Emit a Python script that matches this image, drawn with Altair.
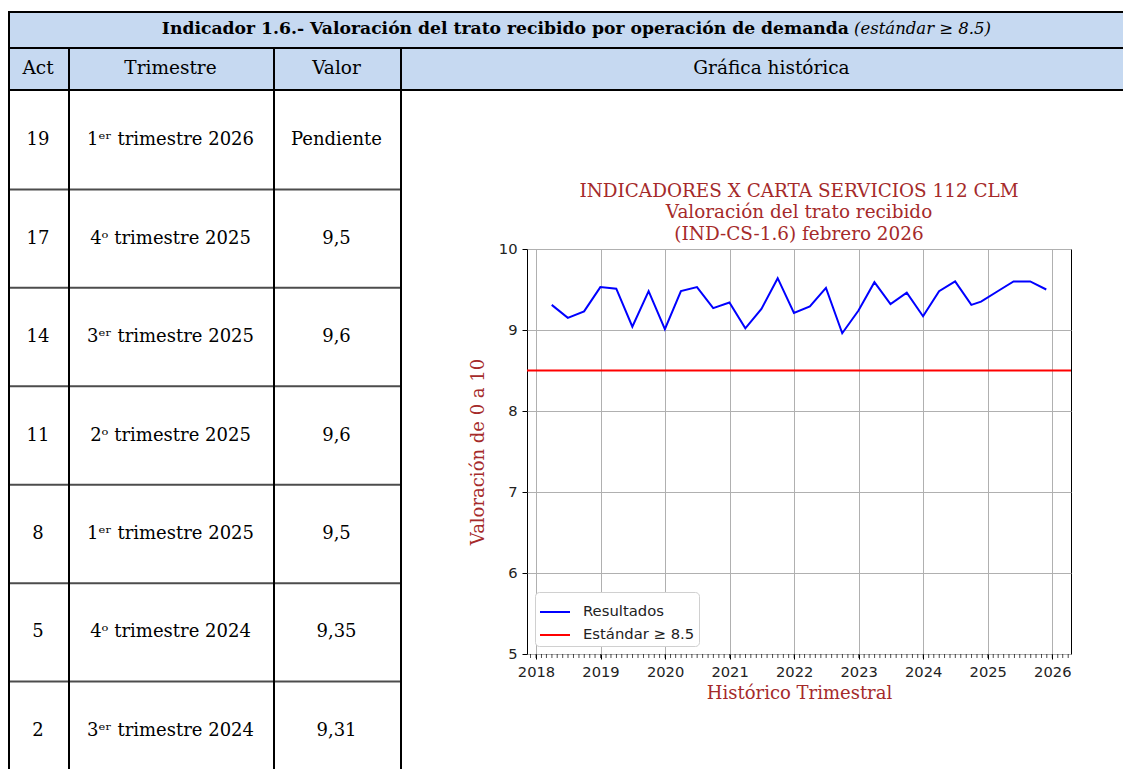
import altair as alt
import pandas as pd

# ---------------- table data ----------------
titulo = "Indicador 1.6.- Valoración del trato recibido por operación de demanda"
titulo_std = "(estándar ≥ 8.5)"
headers = ["Act", "Trimestre", "Valor", "Gráfica histórica"]
act = ["19", "17", "14", "11", "8", "5", "2"]
trimestre = ["1ᵉʳ trimestre 2026", "4ᵒ trimestre 2025", "3ᵉʳ trimestre 2025",
             "2ᵒ trimestre 2025", "1ᵉʳ trimestre 2025", "4ᵒ trimestre 2024",
             "3ᵉʳ trimestre 2024"]
valor = ["Pendiente", "9,5", "9,6", "9,6", "9,5", "9,35", "9,31"]

# ---------------- chart data ----------------
fechas = ["2018-03-31", "2018-06-30", "2018-09-30", "2018-12-31",
          "2019-03-31", "2019-06-30", "2019-09-30", "2019-12-31",
          "2020-03-31", "2020-06-30", "2020-09-30", "2020-12-31",
          "2021-03-31", "2021-06-30", "2021-09-30", "2021-12-31",
          "2022-03-31", "2022-06-30", "2022-09-30", "2022-12-31",
          "2023-03-31", "2023-06-30", "2023-09-30", "2023-12-31",
          "2024-03-31", "2024-06-30", "2024-09-30", "2024-11-24",
          "2025-03-14", "2025-05-27", "2025-08-29", "2025-11-28"]
resultados = [9.31, 9.15, 9.23, 9.53, 9.51, 9.04, 9.48, 9.01,
              9.48, 9.53, 9.27, 9.34, 9.02, 9.26, 9.64, 9.21,
              9.29, 9.52, 8.96, 9.24, 9.59, 9.32, 9.46, 9.17,
              9.48, 9.60, 9.31, 9.35, 9.50, 9.60, 9.60, 9.50]
estandar = 8.5
serie_res = "Resultados"
serie_std = "Estándar ≥ 8.5"
year_ticks = [2018, 2019, 2020, 2021, 2022, 2023, 2024, 2025, 2026]
y_ticks = [5, 6, 7, 8, 9, 10]
chart_title = ["INDICADORES X CARTA SERVICIOS 112 CLM",
               "Valoración del trato recibido",
               "(IND-CS-1.6) febrero 2026"]
x_title = "Histórico Trimestral"
y_title = "Valoración de 0 a 10"

# ---------------- styles / layout ----------------
SERIF = "DejaVu Serif"
SANS = "DejaVu Sans"
HDR = "#c6d9f1"
DRED = "#a52a2a"
LW = 2                      # table line thickness
TOTAL_W = 1115
col_w = [60, 205, 127]
graf_w = TOTAL_W - sum(col_w)
TITLE_H = 36
HEAD_H = 44
ROW_H = 98.4
N = len(act)
BODY_H = round(ROW_H * N)


def no_stroke(fill):
    return alt.ViewBackground(fill=fill, stroke="transparent", strokeWidth=0, strokeOpacity=0)


def dec_year(s):
    d = pd.to_datetime(pd.Series(s))
    days = d.dt.is_leap_year.map({True: 366, False: 365})
    return (d.dt.year + (d.dt.dayofyear - 1) / days).tolist()


xs = dec_year(fechas)
span = max(xs) - min(xs)
xmin, xmax = min(xs) - 0.05 * span, max(xs) + 0.05 * span
months = pd.date_range("2017-12-01", "2026-04-01", freq="MS").strftime("%Y-%m-%d").tolist()
minor_x = dec_year(months)

ONE = pd.DataFrame({"k": [0]})


def hline(w, y):
    return alt.Chart(ONE).mark_rect(color="black").encode(
        x=alt.value(0), x2=alt.value(w), y=alt.value(y), y2=alt.value(y + LW))


def vline(h, x):
    return alt.Chart(ONE).mark_rect(color="black").encode(
        x=alt.value(x), x2=alt.value(x + LW), y=alt.value(0), y2=alt.value(h))


# ---------------- title row ----------------
title_df = pd.DataFrame({"a": [titulo], "b": [titulo_std]})
t_bold = alt.Chart(title_df).mark_text(font=SERIF, fontSize=17.2, fontWeight="bold",
                                       align="right", color="black").encode(
    text="a:N", x=alt.value(841))
t_ital = alt.Chart(title_df).mark_text(font=SERIF, fontSize=16.5, fontStyle="italic",
                                       align="left", color="black").encode(
    text="b:N", x=alt.value(846))
title_row = alt.layer(hline(TOTAL_W, 0), vline(TITLE_H, 0), t_bold, t_ital).properties(
    width=TOTAL_W, height=TITLE_H, view=no_stroke(HDR))


# ---------------- header row ----------------
def header_cell(text, w, dx=0):
    txt = alt.Chart(pd.DataFrame({"t": [text]})).mark_text(
        font=SERIF, fontSize=18.5, color="black", dy=-1, dx=dx).encode(text="t:N")
    return alt.layer(hline(w, 0), hline(w, HEAD_H - LW), vline(HEAD_H, 0), txt).properties(
        width=w, height=HEAD_H, view=no_stroke(HDR))


header_row = alt.hconcat(header_cell(headers[0], col_w[0]),
                         header_cell(headers[1], col_w[1]),
                         header_cell(headers[2], col_w[2]),
                         header_cell(headers[3], graf_w, dx=10),
                         spacing=0, bounds="flush")


# ---------------- body columns ----------------
def body_col(values, w):
    df = pd.DataFrame({"row": list(range(len(values))), "txt": values})
    ysc = alt.Scale(type="band", paddingInner=0, paddingOuter=0, domain=list(range(N)))
    seps = alt.Chart(df).transform_filter("datum.row > 0").mark_tick(
        orient="horizontal", thickness=LW, size=w, color="black").encode(
        y=alt.Y("row:O", scale=ysc, axis=None, bandPosition=0))
    txt = alt.Chart(df).mark_text(font=SERIF, fontSize=18, color="black").encode(
        y=alt.Y("row:O", scale=ysc, axis=None), text="txt:N")
    return alt.layer(vline(BODY_H, 0), seps, txt).properties(
        width=w, height=BODY_H, view=no_stroke("white"))


def spacer(w, h, border=False):
    blank = alt.Chart(ONE).mark_text(text="", opacity=0)
    layers = [vline(h, 0), blank] if border else [blank]
    return alt.layer(*layers).properties(width=w, height=h, view=no_stroke("transparent"))


# ---------------- line chart ----------------
res_df = pd.DataFrame({"x": xs, "valor": resultados, "serie": serie_res})
std_df = pd.DataFrame({"valor": [estandar], "serie": [serie_std]})
minor_df = pd.DataFrame({"x": minor_x})

xsc = alt.Scale(domain=[xmin, xmax], nice=False, zero=False)
ysc = alt.Scale(domain=[5, 10], nice=False, zero=False)

xaxis = alt.Axis(values=year_ticks, format="d", title=x_title, grid=True,
                 gridColor="#b0b0b0", gridWidth=1, domain=False, tickColor="black",
                 tickSize=5, tickWidth=1, labelFont=SANS, labelFontSize=14.7,
                 labelColor="#222222", labelPadding=5, labelFlush=False,
                 titleFont=SERIF, titleFontSize=18, titleFontWeight="normal",
                 titleColor=DRED, titlePadding=6)
yaxis = alt.Axis(values=y_ticks, format="d", title=y_title, grid=True,
                 gridColor="#b0b0b0", gridWidth=1, domain=False, tickColor="black",
                 tickSize=5, tickWidth=1, labelFont=SANS, labelFontSize=14.7,
                 labelColor="#222222", labelPadding=5, labelFlush=False,
                 titleFont=SERIF, titleFontSize=18, titleFontWeight="normal",
                 titleColor=DRED, titlePadding=11)

color = alt.Color("serie:N",
                  scale=alt.Scale(domain=[serie_res, serie_std], range=["blue", "red"]),
                  legend=alt.Legend(title=None, orient="bottom-left", offset=8,
                                    fillColor="white", strokeColor="#d0d0d0",
                                    cornerRadius=4, padding=4, symbolType="stroke",
                                    symbolSize=900, symbolStrokeWidth=2,
                                    labelFont=SANS, labelFontSize=14.8,
                                    labelColor="#222222", labelOffset=12, rowPadding=0))

line = alt.Chart(res_df).mark_line(strokeWidth=2).encode(
    x=alt.X("x:Q", scale=xsc, axis=xaxis),
    y=alt.Y("valor:Q", scale=ysc, axis=yaxis),
    color=color)
rule = alt.Chart(std_df).mark_rule(strokeWidth=2).encode(
    y=alt.Y("valor:Q", scale=ysc, axis=yaxis),
    color=color)
minor = alt.Chart(minor_df).mark_tick(orient="vertical", size=4, thickness=1,
                                      color="black", yOffset=2).encode(
    x=alt.X("x:Q", scale=xsc, axis=xaxis),
    y=alt.YDatum(5, scale=ysc, axis=yaxis))

chart = alt.layer(line, rule, minor).properties(
    width=544, height=405,
    title=alt.TitleParams(text=chart_title, font=SERIF, fontSize=18.4,
                          fontWeight="normal", color=DRED, lineHeight=21.5,
                          offset=-2, anchor="middle", frame="group"),
    view=alt.ViewBackground(fill="white", stroke="black", strokeWidth=1))

inner = alt.vconcat(spacer(1, 158), chart, spacing=0, bounds="flush").resolve_scale(
    color="independent").resolve_legend(color="independent")
graf = alt.hconcat(spacer(127, BODY_H, border=True), inner, spacing=0,
                   bounds="flush").resolve_scale(
    color="independent").resolve_legend(color="independent")

body = alt.hconcat(body_col(act, col_w[0]), body_col(trimestre, col_w[1]),
                   body_col(valor, col_w[2]), graf, spacing=0, bounds="flush").resolve_scale(
    color="independent").resolve_legend(color="independent")

final = alt.vconcat(title_row, header_row, body, spacing=0).properties(
    padding={"left": 0, "top": 3, "right": 0, "bottom": 0},
    background="white").resolve_scale(color="independent").resolve_legend(color="independent")

final.save("out.html", embed_options={"renderer": "svg", "actions": False})
